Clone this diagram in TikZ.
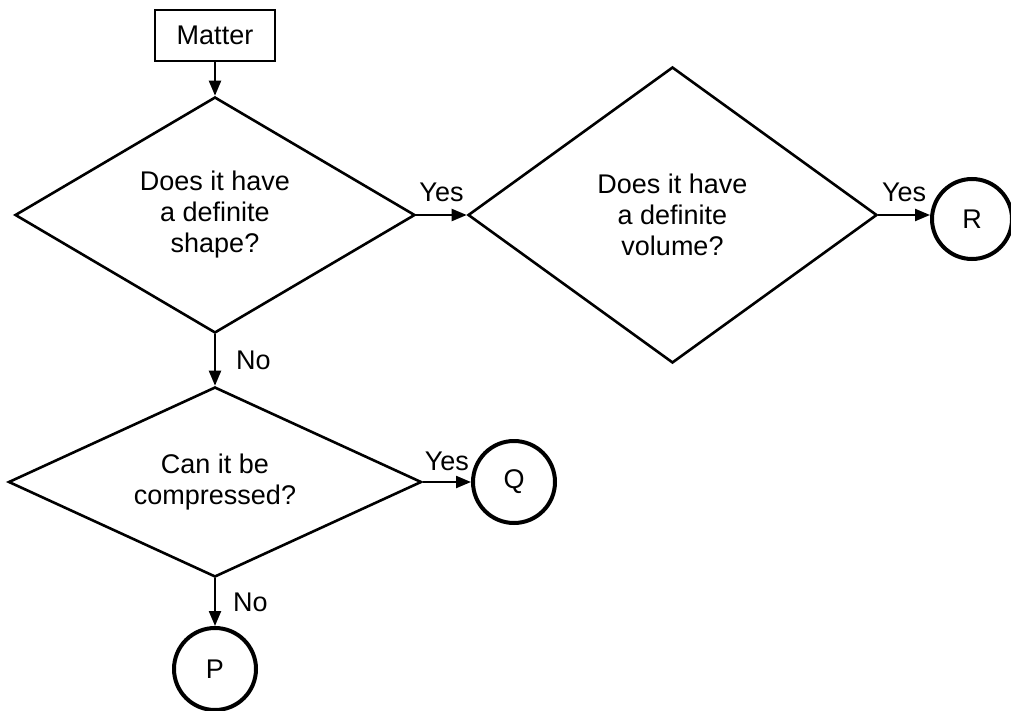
\documentclass[tikz,border=0pt]{standalone}
\usepackage{fontspec}
\setmainfont{Liberation Sans}
\usetikzlibrary{shapes.geometric,arrows.meta}
\begin{document}
\begin{tikzpicture}[x=1pt,y=-1pt,
  txt/.style={font=\fontsize{27}{31}\selectfont, align=center},
  decision/.style={diamond, draw, line width=2.6pt, inner sep=0pt, txt},
  startbox/.style={draw, line width=2.4pt, minimum width=120pt, minimum height=51pt, inner sep=0pt, txt},
  endcirc/.style={circle, draw, line width=4pt, minimum size=80pt, inner sep=0pt, txt},
  arr/.style={line width=2.2pt, -{Triangle[length=15pt,width=12pt]}},
  lbl/.style={inner sep=0pt, font=\fontsize{27}{31}\selectfont}
]
\useasboundingbox (0,0) rectangle (1011,711);
\fill[white] (0,0) rectangle (1011,711);

\node[startbox] (matter) at (215,35.5) {Matter};
\node[decision, minimum width=400pt, minimum height=236pt, aspect=1.7] (d1) at (215,215) {Does it have\\a definite\\shape?};
\node[decision, minimum width=409pt, minimum height=296pt, aspect=1.4] (d2) at (672.5,215) {Does it have\\a definite\\volume?};
\node[decision, minimum width=413pt, minimum height=190pt, aspect=2.2] (d3) at (215,482) {Can it be\\compressed?};
\node[endcirc] (R) at (972,219) {R};
\node[endcirc, minimum size=82pt] (Q) at (514,482) {Q};
\node[endcirc, minimum size=82pt] (P) at (215,669) {P};

\draw[arr] (matter.south) -- (d1.north);
\draw[arr] (d1.east) -- node[lbl, above=12pt] {Yes} (d2.west);
\draw[arr] (d2.east) -- node[lbl, above=12pt] {Yes} (d2.east -| R.west);
\draw[arr] (d1.south) -- node[lbl, right=20pt] {No} (d3.north);
\draw[arr] (d3.east) -- node[lbl, above=10pt] {Yes} (Q.west);
\draw[arr] (d3.south) -- node[lbl, right=17pt] {No} (P.north);
\end{tikzpicture}
\end{document}
